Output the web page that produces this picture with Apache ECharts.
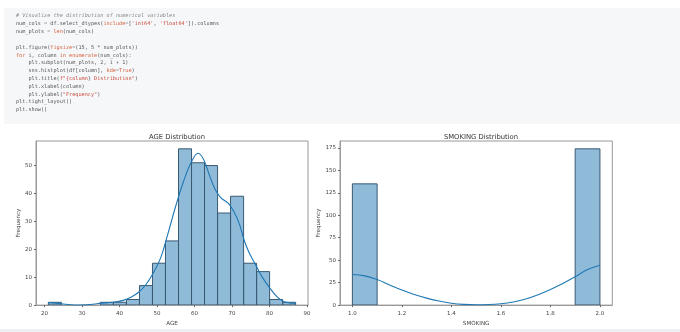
<!DOCTYPE html>
<html>
<head>
<meta charset="utf-8">
<script src="https://cdn.jsdelivr.net/npm/echarts@6/dist/echarts.min.js"></script>
<style>
html,body{margin:0;padding:0;background:#fff;}
#c{width:680px;height:332px;}
</style>
</head>
<body>
<div id="c"></div>
<script>
// ---- code cell text ----
const codeLines = [
  '{c|# Visualize the distribution of numerical variables}',
  "num_cols = df.select_dtypes({k|include}=[{s|'int64'}, {s|'float64'}]).columns",
  'num_plots = {k|len}(num_cols)',
  '',
  'plt.figure({k|figsize}=(15, 5 * num_plots))',
  '{k|for} i, column {k|in} {k|enumerate}(num_cols):',
  '    plt.subplot(num_plots, 2, i + 1)',
  '    sns.histplot(df[column], {k|kde}={k|True})',
  '    plt.title({s|f"{column}}{s| Distribution"})',
  '    plt.xlabel(column)',
  '    plt.ylabel({s|"Frequency"})',
  'plt.tight_layout()',
  'plt.show()'
];

// ---- AGE histogram ----
const ageBinEdges = [21, 24.47, 27.95, 31.42, 34.89, 38.37, 41.84, 45.32, 48.79, 52.26, 55.74, 59.21, 62.68, 66.16, 69.63, 73.11, 76.58, 80.05, 83.53, 87];
const ageCounts = [1, 0, 0, 0, 1, 1, 2, 7, 15, 23, 56, 51, 50, 33, 39, 15, 12, 2, 1];
const ageKde = [[21,0.9],[23,0.7],[25,0.4],[27,0.15],[29,0.05],[31,0.1],[33,0.3],[35,0.7],[37,0.9],[39,1.2],[41,1.7],[43,2.8],[45,4.5],[47,7.3],[49,11.5],[51,17],[53,26],[55,35.5],[57,44],[59,50.8],[61,54.4],[62.5,52],[64,46.5],[65.5,41.5],[67,38.5],[69,36.5],[70.5,33.5],[72,29],[73.2,23.5],[74.5,19],[76.3,14.5],[78,10.2],[80,6.3],[82,3],[83.5,1.5],[85,0.9],[87,0.7]];
const ageXTicks = [20, 30, 40, 50, 60, 70, 80, 90];
const ageYTicks = [0, 10, 20, 30, 40, 50];

// ---- SMOKING histogram ----
const smokeBinEdges = [1.0, 1.1, 1.2, 1.3, 1.4, 1.5, 1.6, 1.7, 1.8, 1.9, 2.0];
const smokeCounts = [135, 0, 0, 0, 0, 0, 0, 0, 0, 174];
const smokeKde = [[1.0,34.1],[1.05,32.5],[1.1,28.5],[1.15,22.5],[1.2,16.7],[1.25,11.8],[1.3,7.8],[1.35,4.5],[1.4,2.1],[1.45,0.8],[1.5,0.4],[1.55,0.6],[1.6,1.5],[1.65,3.5],[1.7,6.7],[1.75,11.5],[1.8,17.4],[1.85,24],[1.9,31.5],[1.95,39.5],[2.0,44.4]];
const smokeXTicks = [1.0, 1.2, 1.4, 1.6, 1.8, 2.0];
const smokeYTicks = [0, 25, 50, 75, 100, 125, 150, 175];

function binData(edges, counts) {
  const out = [];
  for (let i = 0; i < counts.length; i++) {
    if (counts[i] > 0) out.push([edges[i], edges[i + 1], counts[i]]);
  }
  return out;
}

const barFill = 'rgba(31,119,180,0.5)';
const barEdge = '#3a5a73';
const lineColor = '#1f77b4';
const axisColor = '#999';
const txtColor = '#444';
const F = 'DejaVu Sans';

function renderBar(params, api) {
  const p0 = api.coord([api.value(0), api.value(2)]);
  const p1 = api.coord([api.value(1), 0]);
  return {
    type: 'rect',
    shape: { x: p0[0], y: p0[1], width: p1[0] - p0[0], height: p1[1] - p0[1] },
    style: { fill: barFill, stroke: barEdge, lineWidth: 1 }
  };
}

function xAxisCfg(idx, min, max, ticks, name, dec) {
  return {
    type: 'value', gridIndex: idx, min: min, max: max,
    name: name, nameLocation: 'middle', nameGap: 15,
    nameTextStyle: { fontFamily: F, fontSize: 5.6, color: txtColor },
    axisLine: { show: true, onZero: false, lineStyle: { color: axisColor, width: 1 } },
    axisTick: { show: true, length: 2, customValues: ticks, lineStyle: { color: '#666' } },
    axisLabel: { customValues: ticks, fontFamily: F, fontSize: 5.5, color: txtColor, margin: 5,
      formatter: v => dec ? Number(v).toFixed(dec) : String(Math.round(v)) },
    splitLine: { show: false }
  };
}
function yAxisCfg(idx, min, max, ticks, gap) {
  return {
    type: 'value', gridIndex: idx, min: min, max: max,
    name: 'Frequency', nameLocation: 'middle', nameGap: gap, nameRotate: 90,
    nameTextStyle: { fontFamily: F, fontSize: 5.6, color: txtColor },
    axisLine: { show: true, lineStyle: { color: axisColor, width: 1 } },
    axisTick: { show: true, length: 2, customValues: ticks, lineStyle: { color: '#666' } },
    axisLabel: { customValues: ticks, fontFamily: F, fontSize: 5.5, color: txtColor, margin: 4 },
    splitLine: { show: false }
  };
}

const codeGraphics = [];
const lineYs = [16, 24, 32, 40, 48, 56, 63.5, 71.5, 79, 87, 95, 102.5, 110];
codeLines.forEach((t, i) => {
  if (!t) return;
  codeGraphics.push({
    type: 'text', left: 16, top: lineYs[i] - 3, silent: true,
    style: {
      text: t, fontFamily: 'DejaVu Sans Mono', fontSize: 5.2, fill: '#555',
      rich: {
        c: { fontFamily: 'DejaVu Sans Mono', fontSize: 5.2, fill: '#8a8a8a', fontStyle: 'italic' },
        k: { fontFamily: 'DejaVu Sans Mono', fontSize: 5.2, fill: '#d9603b' },
        s: { fontFamily: 'DejaVu Sans Mono', fontSize: 5.2, fill: '#c94a3a' }
      }
    }
  });
});

const chart = echarts.init(document.getElementById('c'), null, { renderer: 'canvas' });
chart.setOption({
  animation: false,
  backgroundColor: '#fff',
  graphic: [
    { type: 'rect', shape: { x: 4, y: 8, width: 676, height: 116 }, style: { fill: '#f6f7f9' }, z: -10, silent: true },
    { type: 'rect', shape: { x: 0, y: 329, width: 680, height: 3 }, style: { fill: '#eef0f3' }, z: -10, silent: true },
    ...codeGraphics
  ],
  title: [
    { text: 'AGE Distribution', left: 172, top: 128.5, textAlign: 'center',
      textStyle: { fontFamily: F, fontSize: 6.8, fontWeight: 'normal', color: '#333' } },
    { text: 'SMOKING Distribution', left: 476, top: 128.5, textAlign: 'center',
      textStyle: { fontFamily: F, fontSize: 6.8, fontWeight: 'normal', color: '#333' } }
  ],
  grid: [
    { left: 36, top: 141, width: 272, height: 171.3, show: true, borderColor: axisColor, borderWidth: 1, backgroundColor: 'transparent' },
    { left: 340, top: 141, width: 272.3, height: 171.3, show: true, borderColor: axisColor, borderWidth: 1, backgroundColor: 'transparent' }
  ],
  xAxis: [
    xAxisCfg(0, 17.7, 90.3, ageXTicks, 'AGE', 0),
    xAxisCfg(1, 0.95, 2.05, smokeXTicks, 'SMOKING', 1)
  ],
  yAxis: [
    yAxisCfg(0, 0, 58.8, ageYTicks, 13),
    yAxisCfg(1, 0, 182.7, smokeYTicks, 16)
  ],
  series: [
    { type: 'custom', xAxisIndex: 0, yAxisIndex: 0, renderItem: renderBar, data: binData(ageBinEdges, ageCounts), encode: { x: [0, 1], y: 2 }, clip: true },
    { type: 'line', xAxisIndex: 0, yAxisIndex: 0, data: ageKde, smooth: 0.4, showSymbol: false, lineStyle: { color: lineColor, width: 1.1 }, z: 5 },
    { type: 'custom', xAxisIndex: 1, yAxisIndex: 1, renderItem: renderBar, data: binData(smokeBinEdges, smokeCounts), encode: { x: [0, 1], y: 2 }, clip: true },
    { type: 'line', xAxisIndex: 1, yAxisIndex: 1, data: smokeKde, smooth: 0.4, showSymbol: false, lineStyle: { color: lineColor, width: 1.1 }, z: 5 }
  ]
});
</script>
</body>
</html>
